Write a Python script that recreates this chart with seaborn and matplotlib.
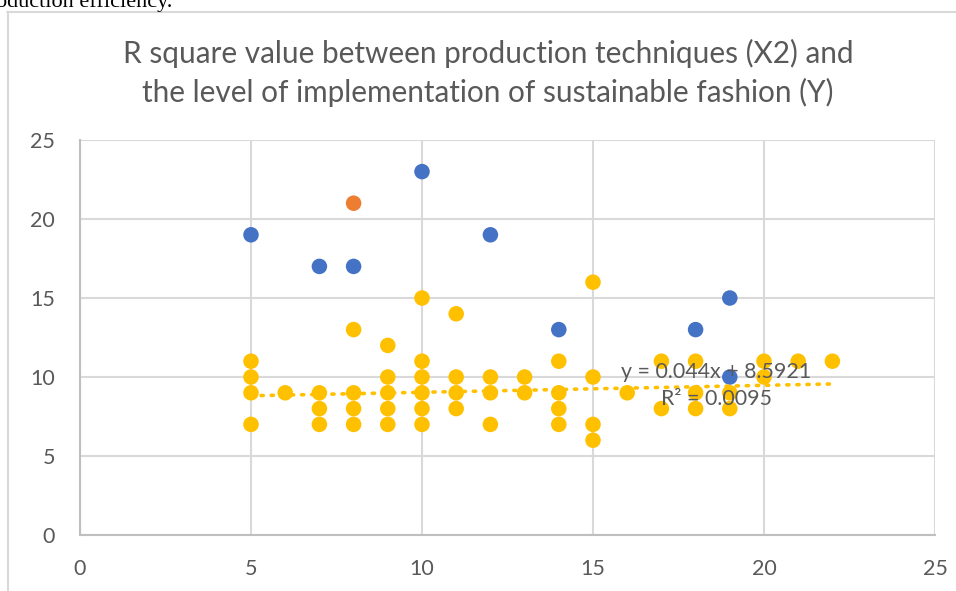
import numpy as np
import pandas as pd
import matplotlib
matplotlib.use("Agg")
import matplotlib.pyplot as plt
from matplotlib.lines import Line2D
import seaborn as sns

# -----------------------------------
# data
# -----------------------------------
blue_x = [5, 7, 8, 10, 12, 14, 18, 19, 19]
blue_y = [19, 17, 17, 23, 19, 13, 13, 15, 10]

orange_x = [8]
orange_y = [21]

yellow_x = [5, 5, 5, 5,
            6,
            7, 7, 7,
            8, 8, 8, 8,
            9, 9, 9, 9, 9,
            10, 10, 10, 10, 10, 10,
            11, 11, 11, 11,
            12, 12, 12,
            13, 13,
            14, 14, 14, 14,
            15, 15, 15, 15,
            16,
            17, 17,
            18, 18, 18,
            19, 19,
            20, 20,
            21,
            22]
yellow_y = [11, 10, 9, 7,
            9,
            9, 8, 7,
            13, 9, 8, 7,
            12, 10, 9, 8, 7,
            15, 11, 10, 9, 8, 7,
            14, 10, 9, 8,
            10, 9, 7,
            10, 9,
            11, 9, 8, 7,
            16, 10, 7, 6,
            9,
            11, 8,
            11, 9, 8,
            9, 8,
            11, 10,
            11,
            11]

# trendline from the chart label
slope = 0.044
intercept = 8.5921

x_ticks = [0, 5, 10, 15, 20, 25]
y_ticks = [0, 5, 10, 15, 20, 25]

title = ("R square value between production techniques (X2) and\n"
         "the level of implementation of sustainable fashion (Y)")

# -----------------------------------
# style
# -----------------------------------
sns.set_style("whitegrid")
plt.rcParams['font.family'] = ['Lato', 'DejaVu Sans']

text_grey = "#595959"
grid_grey = "#d9d9d9"
colors = {"A": "#4472C4", "B": "#ED7D31", "C": "#FFC000"}

df = pd.concat([
    pd.DataFrame({"x": blue_x, "y": blue_y, "s": "A"}),
    pd.DataFrame({"x": orange_x, "y": orange_y, "s": "B"}),
    pd.DataFrame({"x": yellow_x, "y": yellow_y, "s": "C"}),
], ignore_index=True)

fig = plt.figure(figsize=(9.56, 5.91), dpi=100)
ax = fig.add_axes([80 / 956, 1 - 535 / 591, 855 / 956, 395 / 591])

sns.scatterplot(data=df, x="x", y="y", hue="s", palette=colors,
                s=125, linewidth=0, legend=False, ax=ax, zorder=3)

# dotted trendline over the yellow series
tx = np.array([min(yellow_x), max(yellow_x)])
sns.lineplot(x=tx, y=slope * tx + intercept, ax=ax, color="#FFC000",
             linewidth=2.6, linestyle=(0, (0.6, 2.2)),
             dash_capstyle="round", zorder=4)

ax.text(0.744, 0.378, f"y = {slope}x + {intercept}\nR² = 0.0095",
        transform=ax.transAxes, ha="center", va="center",
        fontsize=15.4, color=text_grey, linespacing=1.45, zorder=5)

ax.set_xlim(0, 25)
ax.set_ylim(0, 25)
ax.set_xticks(x_ticks)
ax.set_yticks(y_ticks)
ax.set_xlabel("")
ax.set_ylabel("")
ax.grid(True, color=grid_grey, linewidth=1.5)
ax.tick_params(axis="both", length=0, labelsize=15.5, colors=text_grey)
ax.tick_params(axis="x", pad=17)
ax.tick_params(axis="y", pad=18)
for side in ["top", "right"]:
    ax.spines[side].set_visible(False)
for side in ["left", "bottom"]:
    ax.spines[side].set_color("#bfbfbf")
    ax.spines[side].set_linewidth(1.5)

fig.text(488 / 956, 1 - 73 / 591, title, ha="center", va="center",
         fontsize=21.4, color=text_grey, linespacing=1.38)

# chart frame and the cut-off document text above it
fig.add_artist(Line2D([7.5 / 956, 7.5 / 956], [0, 1 - 12 / 591],
                      transform=fig.transFigure, color=grid_grey, linewidth=1.5))
fig.add_artist(Line2D([7 / 956, 1], [1 - 12 / 591, 1 - 12 / 591],
                      transform=fig.transFigure, color=grid_grey, linewidth=1.5))
fig.text(-0.004, 1 - 7 / 591, "oduction efficiency.", ha="left", va="baseline",
         fontsize=16, family="Liberation Serif", color="black")

fig.savefig("out.png", dpi=100)
